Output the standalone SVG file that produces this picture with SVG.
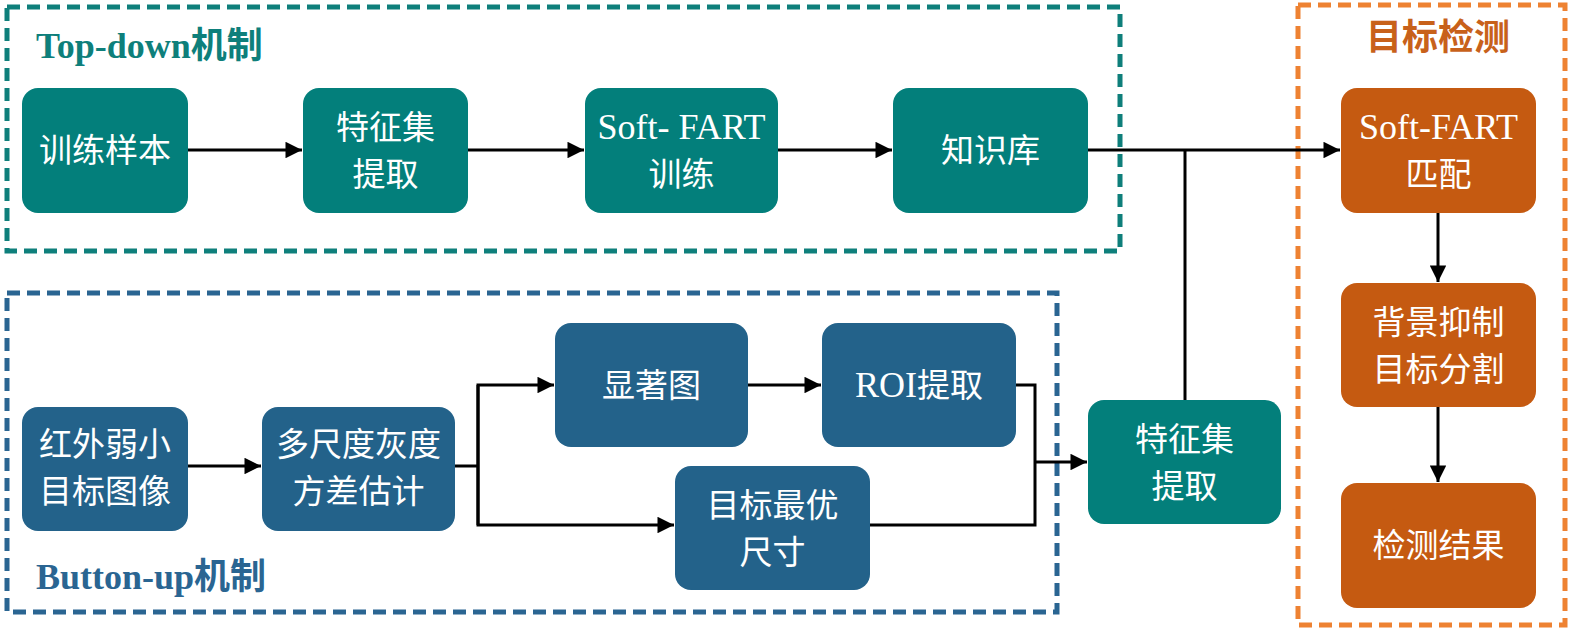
<svg xmlns="http://www.w3.org/2000/svg" width="1583" height="633" viewBox="0 0 1583 633">
<style>
.node text{font-family:"Liberation Serif","Noto Sans CJK SC",serif;font-size:33px;fill:#ffffff;text-anchor:middle}
.node text.lat{font-size:36px}
.teal rect{fill:#037F7B}
.blue rect{fill:#23628A}
.orange rect{fill:#C55A11}
.grp{fill:none;stroke-width:5;stroke-dasharray:13 7}
.title{font-family:"Liberation Serif","Noto Sans CJK SC",serif;font-size:36px;font-weight:bold}
.conn{fill:none;stroke:#000;stroke-width:3}
</style>
<defs>
<marker id="arr" viewBox="0 0 10 10" refX="10" refY="5" markerWidth="6.5" markerHeight="5.5" markerUnits="strokeWidth" orient="auto">
<path d="M0,0 L10,5 L0,10 z" fill="#000"/>
</marker>
</defs>
<rect width="1583" height="633" fill="#ffffff"/>

<g id="group-topdown">
<rect class="grp" x="7" y="7" width="1113" height="244" stroke="#0E7F7B"/>
<text class="title" x="36" y="58" fill="#0E7F7B">Top-down机制</text>
</g>
<g id="group-buttonup">
<rect class="grp" x="7" y="293" width="1050" height="319" stroke="#2A6592"/>
<text class="title" x="36" y="589" fill="#2A6592">Button-up机制</text>
</g>
<g id="group-detect">
<rect class="grp" x="1298" y="5" width="267" height="620" stroke="#EE8232"/>
<text class="title" x="1438" y="50" fill="#C8611A" text-anchor="middle">目标检测</text>
</g>

<g id="connectors">
<line class="conn" x1="188" y1="150" x2="302" y2="150" marker-end="url(#arr)"/>
<line class="conn" x1="468" y1="150" x2="584" y2="150" marker-end="url(#arr)"/>
<line class="conn" x1="778" y1="150" x2="892" y2="150" marker-end="url(#arr)"/>
<line class="conn" x1="1088" y1="150" x2="1340" y2="150" marker-end="url(#arr)"/>
<polyline class="conn" points="1185,400 1185,150"/>
<line class="conn" x1="1438" y1="213" x2="1438" y2="282" marker-end="url(#arr)"/>
<line class="conn" x1="1438" y1="407" x2="1438" y2="482" marker-end="url(#arr)"/>
<line class="conn" x1="188" y1="466" x2="261" y2="466" marker-end="url(#arr)"/>
<polyline class="conn" points="455,466 478,466"/>
<polyline class="conn" points="478,525 478,385 554,385" marker-end="url(#arr)"/>
<polyline class="conn" points="478,385 478,525 674,525" marker-end="url(#arr)"/>
<line class="conn" x1="748" y1="385" x2="821" y2="385" marker-end="url(#arr)"/>
<polyline class="conn" points="1016,385 1035,385 1035,525 870,525"/>
<line class="conn" x1="1035" y1="462" x2="1087" y2="462" marker-end="url(#arr)"/>
</g>

<g id="n-train" class="node teal">
<rect x="22" y="88" width="166" height="125" rx="16"/>
<text x="105" y="162">训练样本</text>
</g>
<g id="n-feat1" class="node teal">
<rect x="303" y="88" width="165" height="125" rx="16"/>
<text x="385.5" y="139">特征集</text>
<text x="385.5" y="186">提取</text>
</g>
<g id="n-softtrain" class="node teal">
<rect x="585" y="88" width="193" height="125" rx="16"/>
<text class="lat" x="681.5" y="139">Soft- FART</text>
<text x="681.5" y="186">训练</text>
</g>
<g id="n-kb" class="node teal">
<rect x="893" y="88" width="195" height="125" rx="16"/>
<text x="990.5" y="162">知识库</text>
</g>
<g id="n-softmatch" class="node orange">
<rect x="1341" y="88" width="195" height="125" rx="16"/>
<text class="lat" x="1438.5" y="139">Soft-FART</text>
<text x="1438.5" y="186">匹配</text>
</g>
<g id="n-bg" class="node orange">
<rect x="1341" y="283" width="195" height="124" rx="16"/>
<text x="1438.5" y="334">背景抑制</text>
<text x="1438.5" y="381">目标分割</text>
</g>
<g id="n-result" class="node orange">
<rect x="1341" y="483" width="195" height="125" rx="16"/>
<text x="1438.5" y="557">检测结果</text>
</g>
<g id="n-ir" class="node blue">
<rect x="22" y="407" width="166" height="124" rx="16"/>
<text x="105" y="456">红外弱小</text>
<text x="105" y="503">目标图像</text>
</g>
<g id="n-var" class="node blue">
<rect x="262" y="407" width="193" height="124" rx="16"/>
<text x="358.5" y="456">多尺度灰度</text>
<text x="358.5" y="503">方差估计</text>
</g>
<g id="n-sal" class="node blue">
<rect x="555" y="323" width="193" height="124" rx="16"/>
<text x="651.5" y="397">显著图</text>
</g>
<g id="n-roi" class="node blue">
<rect x="822" y="323" width="194" height="124" rx="16"/>
<text x="919" y="397"><tspan font-size="36">ROI</tspan>提取</text>
</g>
<g id="n-size" class="node blue">
<rect x="675" y="466" width="195" height="124" rx="16"/>
<text x="772.5" y="517">目标最优</text>
<text x="772.5" y="564">尺寸</text>
</g>
<g id="n-feat2" class="node teal">
<rect x="1088" y="400" width="193" height="124" rx="16"/>
<text x="1184.5" y="451">特征集</text>
<text x="1184.5" y="498">提取</text>
</g>
</svg>
